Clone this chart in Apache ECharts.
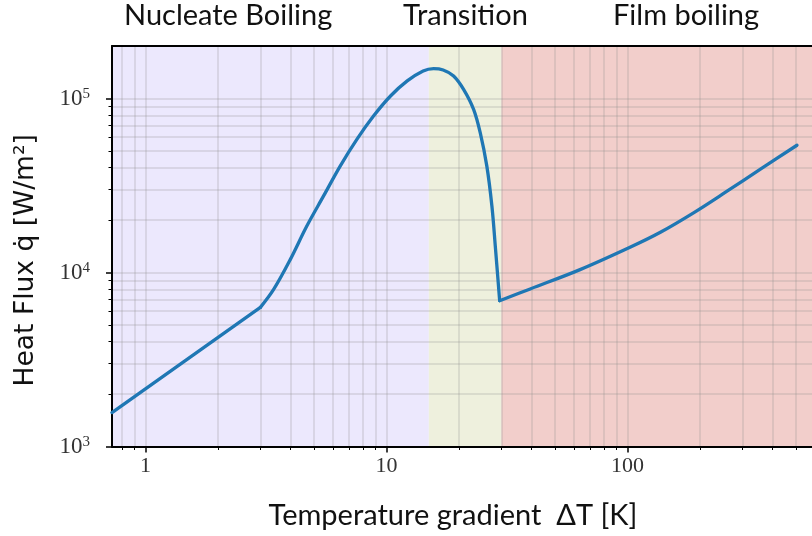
<!DOCTYPE html>
<html>
<head>
<meta charset="utf-8">
<script src="https://cdn.jsdelivr.net/npm/echarts@6/dist/echarts.min.js"></script>
<style>
  html, body { margin: 0; padding: 0; background: #ffffff; }
  #chart { width: 812px; height: 536px; }
</style>
</head>
<body>
<div id="chart"></div>
<script>
// Boiling curve: heat flux versus wall superheat (log-log)
const deltaT = [0.727, 3.0, 3.4, 3.99, 4.67, 5.48, 6.43, 7.54, 8.84, 10.4, 12.2, 14.2, 15.7, 17.2, 19.0, 20.9, 23.0, 24.5, 26.1, 27.4, 28.3, 29.5, 39.5, 63.6, 103, 137, 188, 259, 355, 505];
const heatFlux = [1566, 6300, 7960, 11850, 18430, 27430, 40820, 58150, 79180, 103200, 126000, 143800, 148400, 145700, 134600, 112800, 86550, 63560, 40820, 24020, 14140, 6880, 8040, 10380, 14000, 17020, 22010, 29300, 39070, 53800];

// Indices where the curve has a sharp corner (onset of nucleate boiling, Leidenfrost point)
const cornerIdx = [1, 21];

// Boiling regimes (ΔT limits) and their names
const regimeNames = ['Nucleate Boiling', 'Transition', 'Film boiling'];
const regimeBounds = [15, 30];

// Axis ranges and tick values
const X_MIN = 0.727, X_MAX = 583;
const Y_MIN = 1000, Y_MAX = 200000;
const xMajor = [1, 10, 100];
const xMinor = [0.8, 0.9, 2, 3, 4, 5, 6, 7, 8, 9, 20, 30, 40, 50, 60, 70, 80, 90, 200, 300, 400, 500];
const yMajor = [1000, 10000, 100000];
const yMinor = [2000, 3000, 4000, 5000, 6000, 7000, 8000, 9000, 20000, 30000, 40000, 50000, 60000, 70000, 80000, 90000];

const gridColor = 'rgba(140,140,140,0.28)';
const lineColor = '#1f77b4';
const serif = '"Liberation Serif", "DejaVu Serif", serif';
const sans = 'Lato, "Open Sans", sans-serif';

const chart = echarts.init(document.getElementById('chart'), null, { renderer: 'canvas' });

function logAxis(extra) {
  return Object.assign({
    type: 'log', logBase: 10, z: 1.5,
    axisLine: { show: false },
    axisLabel: { show: false },
    axisTick: { show: false },
    splitLine: { show: false },
    minorTick: { show: false },
    minorSplitLine: { show: false }
  }, extra);
}

// Split the curve at its corners so each piece can be smoothed on its own
const points = deltaT.map((t, i) => [t, heatFlux[i]]);
const cuts = [0].concat(cornerIdx, [points.length - 1]);
const pieces = [];
for (let k = 0; k < cuts.length - 1; k++) {
  pieces.push(points.slice(cuts[k], cuts[k + 1] + 1));
}

const curveSeries = pieces.map((piece) => ({
  type: 'line',
  xAxisIndex: 0, yAxisIndex: 0,
  data: piece,
  showSymbol: false, symbol: 'none',
  smooth: piece.length > 2 ? 0.35 : false,
  clip: true,
  z: 3,
  lineStyle: { color: lineColor, width: 3.3, cap: 'round', join: 'round' }
}));

// Regime background bands
curveSeries[0].markArea = {
  silent: true,
  z: 1,
  data: [
    [{ xAxis: X_MIN, itemStyle: { color: '#ECE8FD' } }, { xAxis: regimeBounds[0] }],
    [{ xAxis: regimeBounds[0], itemStyle: { color: '#EEF0DD' } }, { xAxis: regimeBounds[1] }],
    [{ xAxis: regimeBounds[1], itemStyle: { color: '#F2CECB' } }, { xAxis: X_MAX }]
  ]
};

const option = {
  animation: false,
  backgroundColor: '#ffffff',
  grid: { left: 112, right: 0, top: 46, bottom: 89.5, containLabel: false },
  xAxis: [
    logAxis({
      position: 'bottom', min: X_MIN, max: X_MAX,
      axisLine: { show: true, onZero: false, lineStyle: { color: '#000', width: 2 } },
      axisTick: { show: true, customValues: xMajor, length: 6, lineStyle: { color: '#000', width: 1.5 } },
      axisLabel: { show: true, customValues: xMajor, margin: 9, fontFamily: serif, fontSize: 22, color: '#333',
        formatter: v => String(Math.round(v)) },
      splitLine: { show: true, lineStyle: { color: gridColor, width: 1.5 } },
      name: 'Temperature gradient  ΔT [K]', nameLocation: 'middle', nameGap: 55,
      nameTextStyle: { fontFamily: sans, fontSize: 29, color: '#111', padding: [0, 18, 0, 0] }
    }),
    logAxis({
      position: 'bottom', min: X_MIN, max: X_MAX,
      axisTick: { show: true, customValues: xMinor, length: 3.5, lineStyle: { color: '#000', width: 1 } },
      splitLine: { show: true, lineStyle: { color: gridColor, width: 1.5 } }
    }),
    logAxis({
      position: 'top', min: X_MIN, max: X_MAX,
      axisLine: { show: true, onZero: false, lineStyle: { color: '#000', width: 2 } }
    })
  ],
  yAxis: [
    logAxis({
      position: 'left', min: Y_MIN, max: Y_MAX,
      axisLine: { show: true, onZero: false, lineStyle: { color: '#000', width: 2 } },
      axisTick: { show: true, customValues: yMajor, length: 6, lineStyle: { color: '#000', width: 1.5 } },
      axisLabel: { show: true, customValues: yMajor, margin: 22, color: '#333',
        formatter: v => '{b|10}{s|' + Math.round(Math.log10(v)) + '}',
        rich: {
          b: { fontFamily: serif, fontSize: 23, color: '#333', verticalAlign: 'bottom' },
          s: { fontFamily: serif, fontSize: 15, color: '#333', verticalAlign: 'top', padding: [0, 0, 9, 0] }
        } },
      splitLine: { show: true, lineStyle: { color: gridColor, width: 1.5 } },
      name: 'Heat Flux q̇ [W/m²]', nameLocation: 'middle', nameGap: 72, nameRotate: 90,
      nameTextStyle: { fontFamily: '"DejaVu Sans", sans-serif', fontSize: 26.5, color: '#111', padding: [0, 28, 0, 0] }
    }),
    logAxis({
      position: 'left', min: Y_MIN, max: Y_MAX,
      axisTick: { show: true, customValues: yMinor, length: 3.5, lineStyle: { color: '#000', width: 1 } },
      splitLine: { show: true, lineStyle: { color: gridColor, width: 1.5 } }
    })
  ],
  graphic: [
    { type: 'text', left: 124, top: 1, style: { text: regimeNames[0], font: '29px ' + sans, fill: '#111' } },
    { type: 'text', left: 403, top: 1, style: { text: regimeNames[1], font: '29px ' + sans, fill: '#111' } },
    { type: 'text', left: 613, top: 1, style: { text: regimeNames[2], font: '29px ' + sans, fill: '#111' } }
  ],
  series: curveSeries
};

chart.setOption(option);
</script>
</body>
</html>
